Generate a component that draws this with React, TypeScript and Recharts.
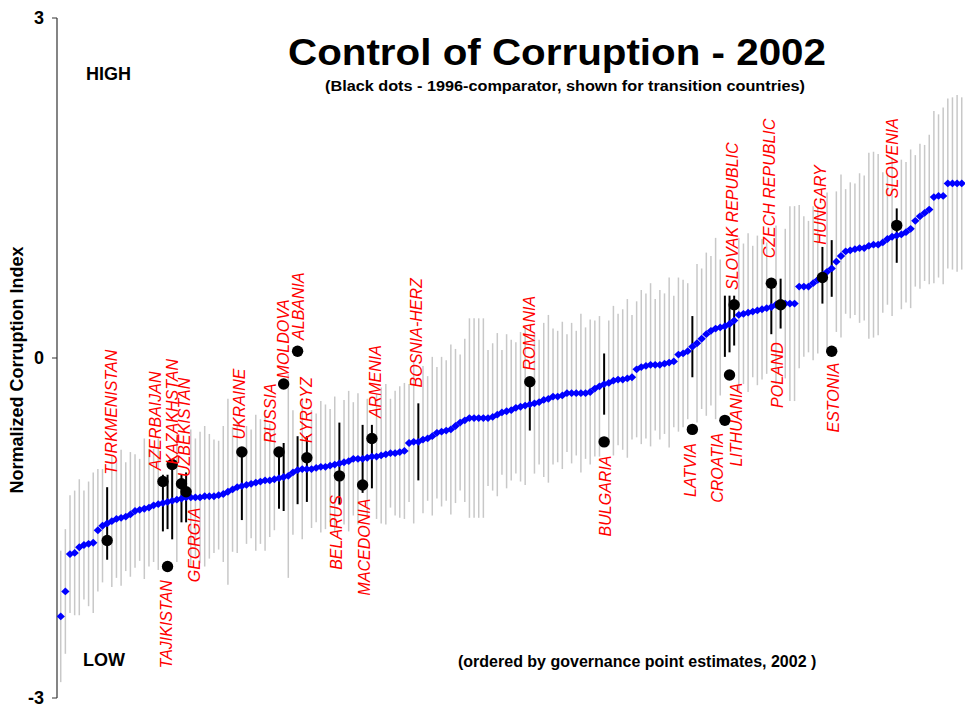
import { ComposedChart, Scatter, ErrorBar, XAxis, YAxis } from 'recharts'

// 2002 point estimates, ordered (one per country)
const EST_2002 = [
  -2.28, -2.06, -1.73, -1.72, -1.67, -1.65, -1.64, -1.63, -1.52, -1.48,
  -1.46, -1.44, -1.42, -1.41, -1.40, -1.38, -1.35, -1.34, -1.33, -1.32,
  -1.30, -1.29, -1.28, -1.27, -1.26, -1.25, -1.24, -1.23, -1.23, -1.23,
  -1.23, -1.22, -1.22, -1.22, -1.21, -1.20, -1.18, -1.16, -1.14, -1.13,
  -1.12, -1.11, -1.10, -1.09, -1.08, -1.08, -1.07, -1.06, -1.05, -1.04,
  -1.01, -0.99, -0.98, -0.98, -0.98, -0.97, -0.96, -0.96, -0.95, -0.94,
  -0.93, -0.92, -0.91, -0.89, -0.89, -0.89, -0.88, -0.87, -0.87, -0.86,
  -0.85, -0.84, -0.84, -0.83, -0.82, -0.75, -0.74, -0.74, -0.72, -0.71,
  -0.69, -0.66, -0.65, -0.64, -0.63, -0.60, -0.57, -0.55, -0.53, -0.53,
  -0.53, -0.53, -0.53, -0.52, -0.50, -0.48, -0.47, -0.46, -0.44, -0.43,
  -0.42, -0.41, -0.40, -0.39, -0.37, -0.36, -0.34, -0.34, -0.33, -0.31,
  -0.31, -0.31, -0.31, -0.31, -0.30, -0.27, -0.25, -0.23, -0.22, -0.20,
  -0.19, -0.19, -0.18, -0.17, -0.10, -0.08, -0.07, -0.06, -0.06, -0.06,
  -0.05, -0.04, -0.03, 0.03, 0.04, 0.06, 0.10, 0.13, 0.17, 0.21,
  0.24, 0.26, 0.27, 0.28, 0.30, 0.33, 0.38, 0.39, 0.40, 0.41,
  0.42, 0.43, 0.44, 0.45, 0.47, 0.48, 0.48, 0.48, 0.48, 0.63,
  0.63, 0.63, 0.66, 0.69, 0.73, 0.76, 0.79, 0.85, 0.90, 0.94,
  0.95, 0.96, 0.97, 0.97, 0.99, 1.00, 1.00, 1.02, 1.05, 1.07,
  1.08, 1.09, 1.11, 1.14, 1.21, 1.25, 1.28, 1.31, 1.42, 1.43,
  1.43, 1.54, 1.54, 1.54, 1.54,
]

// half-width of the confidence interval around each estimate
const HALF_CI = [
  0.58, 0.55, 0.52, 0.55, 0.60, 0.48, 0.55, 0.62, 0.54, 0.50,
  0.32, 0.58, 0.52, 0.60, 0.48, 0.55, 0.50, 0.45, 0.62, 0.52,
  0.50, 0.58, 0.25, 0.24, 0.34, 0.55, 0.21, 0.22, 0.60, 0.52,
  0.58, 0.62, 0.55, 0.50, 0.48, 0.60, 0.82, 0.55, 0.58, 0.30,
  0.52, 0.48, 0.60, 0.55, 0.62, 0.50, 0.45, 0.27, 0.30, 0.90,
  0.55, 0.30, 0.62, 0.29, 0.52, 0.48, 0.58, 0.55, 0.50, 0.60,
  0.36, 0.55, 0.62, 0.50, 0.58, 0.30, 0.52, 0.28, 0.55, 0.60,
  0.62, 0.48, 0.55, 0.58, 0.60, 0.52, 0.72, 0.34, 0.65, 0.55,
  0.70, 0.58, 0.66, 0.62, 0.75, 0.68, 0.60, 0.72, 0.88, 0.88,
  0.88, 0.88, 0.60, 0.65, 0.72, 0.55, 0.68, 0.62, 0.58, 0.66,
  0.70, 0.23, 0.62, 0.55, 0.68, 0.74, 0.60, 0.58, 0.65, 0.52,
  0.62, 0.55, 0.70, 0.58, 0.64, 0.60, 0.62, 0.27, 0.55, 0.66,
  0.58, 0.62, 0.70, 0.55, 0.60, 0.68, 0.64, 0.72, 0.58, 0.66,
  0.62, 0.75, 0.58, 0.68, 0.65, 0.60, 0.27, 0.70, 0.62, 0.72,
  0.66, 0.80, 0.60, 0.27, 0.25, 0.22, 0.68, 0.62, 0.70, 0.58,
  0.66, 0.62, 0.58, 0.24, 0.70, 0.22, 0.66, 0.86, 0.86, 0.72,
  0.62, 0.58, 0.68, 0.65, 0.25, 0.70, 0.25, 0.62, 0.72, 0.55,
  0.60, 0.58, 0.66, 0.64, 0.82, 0.82, 0.80, 0.62, 0.58, 0.70,
  0.24, 0.66, 0.62, 0.70, 0.58, 0.64, 0.60, 0.66, 0.76, 0.72,
  0.78, 0.75, 0.76, 0.78, 0.76,
]

// transition countries: name, rank position, 1996 comparator
const TRANSITION = [
  'TURKMENISTAN', 'AZERBAIJAN', 'TAJIKISTAN', 'KAZAKHSTAN', 'UZBEKISTAN', 'GEORGIA',
  'UKRAINE', 'RUSSIA', 'MOLDOVA', 'ALBANIA', 'KYRGYZ', 'BELARUS', 'MACEDONIA',
  'ARMENIA', 'BOSNIA-HERZ', 'ROMANIA', 'BULGARIA', 'LATVIA', 'CROATIA', 'LITHUANIA',
  'SLOVAK REPUBLIC', 'CZECH REPUBLIC', 'POLAND', 'HUNGARY', 'ESTONIA', 'SLOVENIA',
]
const TRANSITION_RANK = [
  10, 22, 23, 24, 26, 27, 39, 47, 48, 51, 53, 60, 65,
  67, 77, 101, 117, 136, 143, 144, 145, 153, 155, 164, 166, 180,
]
const EST_1996: (number | null)[] = [
  -1.61, -1.09, -1.84, -0.94, -1.11, -1.18, -0.83, -0.83, -0.23, 0.06, -0.88, -1.04, -1.12,
  -0.71, null, -0.21, -0.74, -0.63, -0.55, -0.15, 0.47, 0.66, 0.47, 0.71, 0.06, 1.17,
]

const Y_TICKS = [-3, 0, 3]

// where each country name sits: [rank position, value where the text starts, 'up' | 'down']
const LABEL_POS: [number, number, string][] = [
  [11.0, -1.03, 'up'], [20.5, -0.99, 'up'], [22.8, -1.96, 'down'], [24.0, -0.94, 'up'],
  [26.6, -1.05, 'up'], [28.9, -1.32, 'down'], [38.6, -0.72, 'up'], [45.1, -0.75, 'up'],
  [48.0, -0.18, 'up'], [51.3, 0.16, 'up'], [52.9, -0.75, 'up'], [59.3, -1.21, 'down'],
  [65.5, -1.24, 'down'], [67.7, -0.53, 'up'], [76.5, -0.26, 'up'], [101.0, -0.11, 'up'],
  [117.2, -0.86, 'down'], [135.5, -0.75, 'down'], [141.5, -0.66, 'down'], [145.6, -0.22, 'down'],
  [144.7, 0.60, 'up'], [152.7, 0.88, 'up'], [154.3, 0.14, 'down'], [163.6, 1.00, 'up'],
  [166.3, -0.04, 'down'], [179.1, 1.41, 'up'],
]

const FONT = 'Arial, "Liberation Sans", sans-serif'

const rows = EST_2002.map((v, i) => ({ i, v, e: HALF_CI[i] }))
const inTransition = new Set(TRANSITION_RANK)
const greyRows = rows.filter(r => !inTransition.has(r.i))
const blackRows = rows.filter(r => inTransition.has(r.i))
const dots1996 = TRANSITION_RANK
  .map((i, k) => ({ i, v: EST_1996[k] }))
  .filter(d => d.v !== null)
const labels = TRANSITION.map((name, k) => ({
  name, i: LABEL_POS[k][0], v: LABEL_POS[k][1], side: LABEL_POS[k][2],
}))

const Nothing = () => <g />

const Diamond = (p: any) => {
  const { cx, cy } = p
  return (
    <polygon
      points={`${cx - 4.2},${cy} ${cx},${cy - 3.9} ${cx + 4.2},${cy} ${cx},${cy + 3.9}`}
      fill="#0000ff"
    />
  )
}

const Dot = (p: any) => <circle cx={p.cx} cy={p.cy} r={5.7} fill="#000" />

const CountryLabel = (p: any) => {
  const d = p.payload ?? p
  return (
    <text
      x={p.cx}
      y={p.cy}
      transform={`rotate(-90 ${p.cx} ${p.cy})`}
      textAnchor={d.side === 'up' ? 'start' : 'end'}
      dominantBaseline="central"
      fill="#ff0000"
      fontSize={16}
      fontStyle="italic"
      fontFamily={FONT}
    >
      {d.name}
    </text>
  )
}

export default function App() {
  return (
    <div style={{ position: 'absolute', left: 0, top: 0, width: 965, height: 710, background: '#fff' }}>
      <ComposedChart width={965} height={710} margin={{ top: 18, right: 0, bottom: 12, left: 12 }}>
        <XAxis type="number" dataKey="i" domain={[-0.8, 194.7]} hide allowDataOverflow />
        <YAxis
          type="number"
          domain={[-3, 3]}
          ticks={Y_TICKS}
          width={45}
          tickSize={5}
          tickMargin={8}
          axisLine={{ stroke: '#333', strokeWidth: 1.2 }}
          tickLine={{ stroke: '#333' }}
          tick={{ fill: '#000', fontSize: 18, fontWeight: 700, fontFamily: FONT }}
        />
        <Scatter data={greyRows} dataKey="v" shape={Nothing} isAnimationActive={false}>
          <ErrorBar dataKey="e" direction="y" width={0} stroke="#c8c8c8" strokeWidth={1.5} isAnimationActive={false} />
        </Scatter>
        <Scatter data={blackRows} dataKey="v" shape={Nothing} isAnimationActive={false}>
          <ErrorBar dataKey="e" direction="y" width={0} stroke="#000" strokeWidth={2} isAnimationActive={false} />
        </Scatter>
        <Scatter data={rows} dataKey="v" shape={Diamond} isAnimationActive={false} />
        <Scatter data={dots1996} dataKey="v" shape={Dot} isAnimationActive={false} />
        <Scatter data={labels} dataKey="v" shape={CountryLabel} isAnimationActive={false} />
      </ComposedChart>

      <svg width={965} height={710} style={{ position: 'absolute', left: 0, top: 0, pointerEvents: 'none' }}>
        <g fontFamily={FONT} fontWeight={700} fill="#000">
          <text x={557} y={65} fontSize={36} textAnchor="middle" textLength={538} lengthAdjust="spacingAndGlyphs">
            Control of Corruption - 2002
          </text>
          <text x={565} y={91} fontSize={14} textAnchor="middle" textLength={480} lengthAdjust="spacingAndGlyphs">
            (Black dots -  1996-comparator, shown for transition countries)
          </text>
          <text x={86} y={80} fontSize={18}>HIGH</text>
          <text x={83} y={666} fontSize={18}>LOW</text>
          <text x={458} y={667} fontSize={16}>(ordered by governance point estimates, 2002 )</text>
          <text x={23} y={370} fontSize={18} textAnchor="middle" transform="rotate(-90 23 370)">
            Normalized Corruption Index
          </text>
        </g>
      </svg>
    </div>
  )
}
